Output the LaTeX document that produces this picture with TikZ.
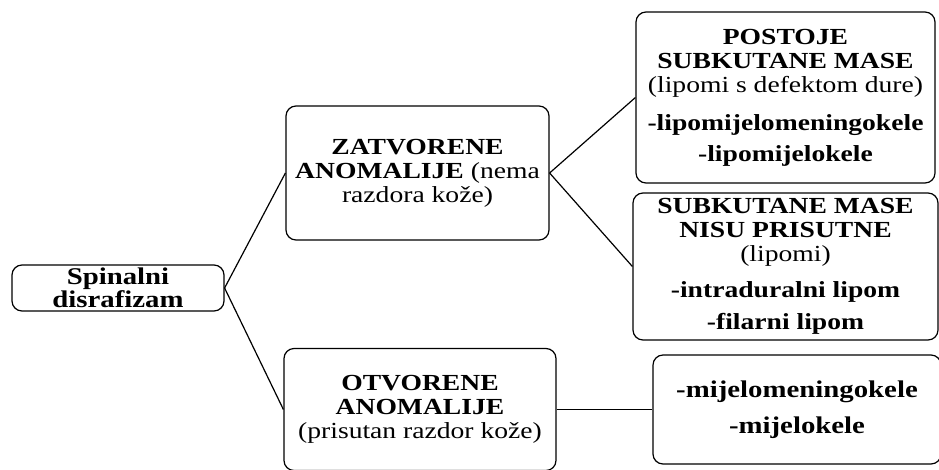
\documentclass[tikz,border=0pt]{standalone}
\usepackage{fontspec}
\setmainfont{Liberation Serif}[FakeStretch=1.2]
\usetikzlibrary{positioning}

\tikzset{
  box/.style={draw, line width=1.2pt, rounded corners=10pt, inner sep=0pt, align=center,
    font=\fontsize{23}{24}\selectfont},
  link/.style={line width=1.2pt}
}

\begin{document}
\begin{tikzpicture}[x=1pt,y=-1pt]
	\useasboundingbox (0,0) rectangle (939,469);

	% Root
	\node[box, minimum width=212pt, minimum height=46pt, font=\fontsize{24}{21}\selectfont]
		(spinalni) at (118,288) {\textbf{Spinalni}\\\textbf{disrafizam}};

	% Closed and open anomalies
	\node[box, minimum width=263pt, minimum height=134pt] (zatvorene) at (417.5,173)
		{\textbf{ZATVORENE}\\\textbf{ANOMALIJE} (nema\\razdora kože)};
	\node[box, minimum width=272pt, minimum height=122pt] (otvorene) at (420,409.5)
		{\textbf{OTVORENE}\\\textbf{ANOMALIJE}\\(prisutan razdor kože)};

	% Subgroups
	\node[box, minimum width=299pt, minimum height=171pt] (postoje) at (785.5,97.5)
		{\textbf{POSTOJE}\\\textbf{SUBKUTANE MASE}\\(lipomi s defektom dure)\\[14pt]
		 \textbf{-lipomijelomeningokele}\\[7pt]\textbf{-lipomijelokele}};
	\node[box, minimum width=305pt, minimum height=147pt] (nisu) at (785.5,266.5)
		{\textbf{SUBKUTANE MASE}\\\textbf{NISU PRISUTNE}\\(lipomi)\\[12pt]
		 \textbf{-intraduralni lipom}\\[8pt]\textbf{-filarni lipom}};
	\node[box, minimum width=288pt, minimum height=109pt, font=\fontsize{24}{24}\selectfont]
		(mijelo) at (797,409.5)
		{\textbf{-mijelomeningokele}\\[12pt]\textbf{-mijelokele}};

	% Connectors
	\draw[link] (spinalni.east) -- (zatvorene.west);
	\draw[link] (spinalni.east) -- (otvorene.west);
	\draw[link] (zatvorene.east) -- (postoje.west);
	\draw[link] (zatvorene.east) -- (nisu.west);
	\draw[link] (otvorene.east) -- (mijelo.west);
\end{tikzpicture}
\end{document}
